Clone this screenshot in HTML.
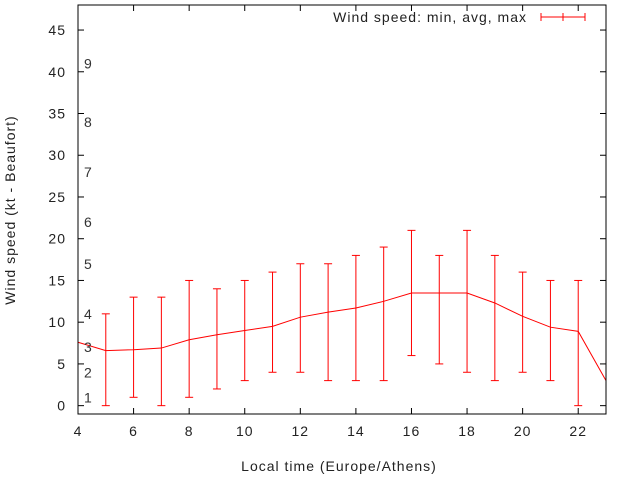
<!DOCTYPE html>
<html><head><meta charset="utf-8"><style>
html,body{margin:0;padding:0;background:#fff}
svg text{font-family:"Liberation Sans",sans-serif;font-size:14px;fill:#222;letter-spacing:1px}
</style></head><body>
<svg id="chart" width="640" height="480" xmlns="http://www.w3.org/2000/svg">
<g id="marks"></g>
<g id="axes"></g>
</svg>
<script>
const hours=[4,5,6,7,8,9,10,11,12,13,14,15,16,17,18,19,20,21,22,23];
const avgSpeed=[7.6,6.6,6.7,6.9,7.9,8.5,9,9.5,10.6,11.2,11.7,12.5,13.5,13.5,13.5,12.3,10.7,9.4,8.9,3];
const minSpeed=[null,0,1,0,1,2,3,4,4,3,3,3,6,5,4,3,4,3,0,null];
const maxSpeed=[null,11,13,13,15,14,15,16,17,17,18,19,21,18,21,18,16,15,15,null];
const yTicks=[0,5,10,15,20,25,30,35,40,45];
const xTicks=[4,6,8,10,12,14,16,18,20,22];
const beaufortLabels=["1","2","3","4","5","6","7","8","9"];
const beaufortKnots=[1,4,7,11,17,22,28,34,41];

const L=78,R=606,T=5,B=414,xMin=4,xMax=23,yMin=-1,yMax=48;
const X=v=>L+(v-xMin)/(xMax-xMin)*(R-L);
const Y=v=>B-(v-yMin)/(yMax-yMin)*(B-T);
const NS="http://www.w3.org/2000/svg";
function mk(tag,attrs,parent){const e=document.createElementNS(NS,tag);for(const k in attrs)e.setAttribute(k,attrs[k]);parent.appendChild(e);return e;}
const marks=document.getElementById('marks'),axes=document.getElementById('axes');

let d=hours.map((h,i)=>(i?'L':'M')+X(h)+' '+Y(avgSpeed[i])).join(' ');
const line=mk('path',{d:d,fill:'none',stroke:'#f00','stroke-width':1},marks);


hours.forEach((h,i)=>{
  if(minSpeed[i]===null)return;
  const g=mk('g',{stroke:'#f00','stroke-width':1},marks);
  
  
  const x=X(h);
  mk('line',{x1:x,x2:x,y1:Y(minSpeed[i]),y2:Y(maxSpeed[i])},g);
  mk('line',{x1:x-4,x2:x+4,y1:Y(minSpeed[i]),y2:Y(minSpeed[i])},g);
  mk('line',{x1:x-4,x2:x+4,y1:Y(maxSpeed[i]),y2:Y(maxSpeed[i])},g);
});
const fr=mk('rect',{x:L,y:T,width:R-L,height:B-T,fill:'none',stroke:'#000','stroke-width':1},axes);


yTicks.forEach(v=>{
  const y=Y(v);
  mk('line',{x1:L,x2:L+6,y1:y,y2:y,stroke:'#000'},axes);
  mk('line',{x1:R,x2:R-6,y1:y,y2:y,stroke:'#000'},axes);
  const t=mk('text',{x:L-12,y:y+5,'text-anchor':'end'},axes);t.textContent=v;
  
  
});
xTicks.forEach(v=>{
  const x=X(v);
  mk('line',{x1:x,x2:x,y1:B,y2:B-6,stroke:'#000'},axes);
  mk('line',{x1:x,x2:x,y1:T,y2:T+6,stroke:'#000'},axes);
  const t=mk('text',{x:x,y:B+22,'text-anchor':'middle'},axes);t.textContent=v;
  
  
});
beaufortLabels.forEach((s,i)=>{
  const t=mk('text',{x:84,y:Y(beaufortKnots[i])+5,style:'fill:#333'},axes);t.textContent=s;
  
  
});
const xt=mk('text',{x:339,y:471,'text-anchor':'middle'},axes);xt.textContent='Local time (Europe/Athens)';


const yt=mk('text',{x:15,y:210,'text-anchor':'middle',transform:'rotate(-90 15 210)'},axes);yt.textContent='Wind speed (kt - Beaufort)';


const lg=mk('g',{},axes);


const lt=mk('text',{x:527,y:22,'text-anchor':'end'},lg);lt.textContent='Wind speed: min, avg, max';
mk('line',{x1:541,x2:585,y1:17,y2:17,stroke:'#f00'},lg);
[541,563,585].forEach(x=>mk('line',{x1:x,x2:x,y1:13,y2:21,stroke:'#f00'},lg));
</script>
</body></html>
